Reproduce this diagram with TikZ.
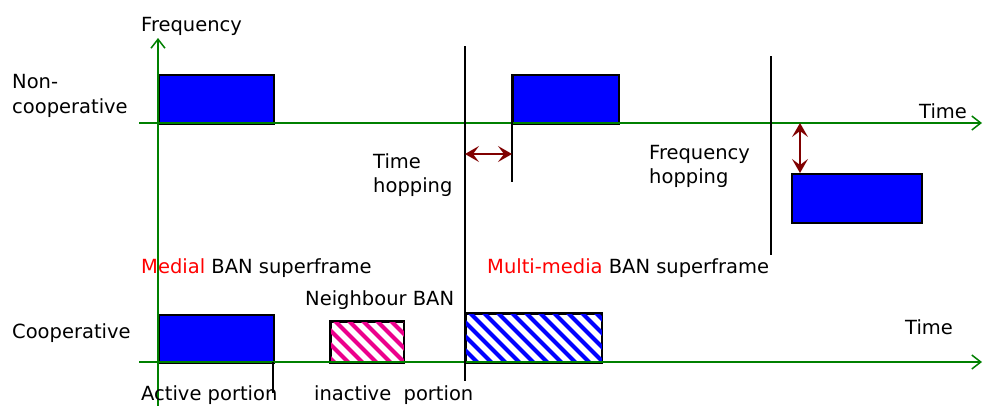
\documentclass[tikz,border=0pt]{standalone}
\usepackage{fontspec}
\setmainfont{DejaVu Sans}
\usetikzlibrary{arrows.meta}
\definecolor{axisgreen}{HTML}{008000}
\definecolor{hopred}{HTML}{800000}
\definecolor{medred}{HTML}{FF0000}
\begin{document}
\begin{tikzpicture}[x=1pt,y=-1pt,
  lbl/.style={font=\fontsize{19.5}{24}\selectfont, inner sep=0pt, anchor=base west},
  axis/.style={draw=axisgreen, line width=1.5pt, -{Straight Barb[length=9pt,width=14pt,line width=1.5pt]}},
  marker/.style={draw=black, line width=1.5pt},
  block/.style={draw=black, fill=blue, line width=1.5pt, inner sep=0pt, anchor=north west},
  hatchbox/.style={draw=black, line width=1.5pt, inner sep=0pt, anchor=north west},
  hop/.style={draw=hopred, line width=1.5pt, {Stealth[length=14pt,width=16pt,inset=6pt]}-{Stealth[length=14pt,width=16pt,inset=6pt]}}
]
\useasboundingbox (0,0) rectangle (983,405);
\fill[white] (0,0) rectangle (983,405);

% axes
\coordinate (yaxB) at (158,410);
\coordinate (yaxT) at (158,38);
\coordinate (taxL) at (139,123);
\coordinate (taxR) at (982,123);
\coordinate (baxL) at (139,362);
\coordinate (baxR) at (982,362);

% vertical markers
\coordinate (m1T) at (465,46);
\coordinate (m1B) at (465,381);
\coordinate (m2T) at (771,56);
\coordinate (m2B) at (771,255);
\coordinate (m3T) at (512,74);
\coordinate (m3B) at (512,182);
\coordinate (m4T) at (273,362);
\coordinate (m4B) at (273,393);

% blocks
\node[block, minimum width=115pt, minimum height=49pt] (b1) at (158,74) {};
\node[block, minimum width=106pt, minimum height=49pt] (b2) at (512,74) {};
\node[block, minimum width=130pt, minimum height=49pt] (b3) at (791,173) {};
\node[block, minimum width=115pt, minimum height=48pt] (b4) at (158,314) {};

% hatched boxes
\node[hatchbox, minimum width=73pt, minimum height=41pt] (hm) at (330,321) {};
\begin{scope}
  \clip (hm.south west) rectangle (hm.north east);
  \foreach \k in {-4,...,6} \draw[magenta, line width=4pt] (330+\k*14,316) -- ++(52,52);
\end{scope}
\node[hatchbox, minimum width=136pt, minimum height=49pt] (hb) at (465,313) {};
\begin{scope}
  \clip (hb.south west) rectangle (hb.north east);
  \foreach \k in {-5,...,11} \draw[blue, line width=4pt] (465+\k*14,308) -- ++(60,60);
\end{scope}
\draw[line width=1.5pt] (hm.north west) rectangle (hm.south east);
\draw[line width=1.5pt] (hb.north west) rectangle (hb.south east);

\draw[axis] (yaxB) -- (yaxT);
\draw[axis] (taxL) -- (taxR);
\draw[axis] (baxL) -- (baxR);

\draw[marker] (m1T) -- (m1B);
\draw[marker] (m2T) -- (m2B);
\draw[marker] (m3T) -- (m3B);
\draw[marker] (m4T) -- (m4B);

% hopping arrows
\coordinate (th1) at (465,154);
\coordinate (th2) at (512,154);
\coordinate (fh1) at (800,123);
\draw[hop] (th1) -- (th2);
\draw[hop] (fh1) -- (fh1 |- b3.north);

% labels
\node[lbl] (lfreq) at (141,31) {Frequency};
\node[lbl] (lnon1) at (12,88) {Non-};
\node[lbl] (lnon2) at (12,113) {cooperative};
\node[lbl] (ltime1) at (919,118) {Time};
\node[lbl] (lth1) at (373,168) {Time};
\node[lbl] (lth2) at (373,192) {hopping};
\node[lbl] (lfh1) at (649,159) {Frequency};
\node[lbl] (lfh2) at (649,183) {hopping};
\node[lbl] (lmed) at (141,273) {\textcolor{medred}{Medial} BAN superframe};
\node[lbl] (lmm) at (487,273) {\textcolor{medred}{Multi-media} BAN superframe};
\node[lbl] (lnb) at (305,305) {Neighbour BAN};
\node[lbl] (lcoop) at (12,338) {Cooperative};
\node[lbl] (ltime2) at (905,334) {Time};
\node[lbl] (lact) at (141,400) {Active portion};
\node[lbl] (linact) at (314,400) {inactive\ \ portion};
\end{tikzpicture}
\end{document}
